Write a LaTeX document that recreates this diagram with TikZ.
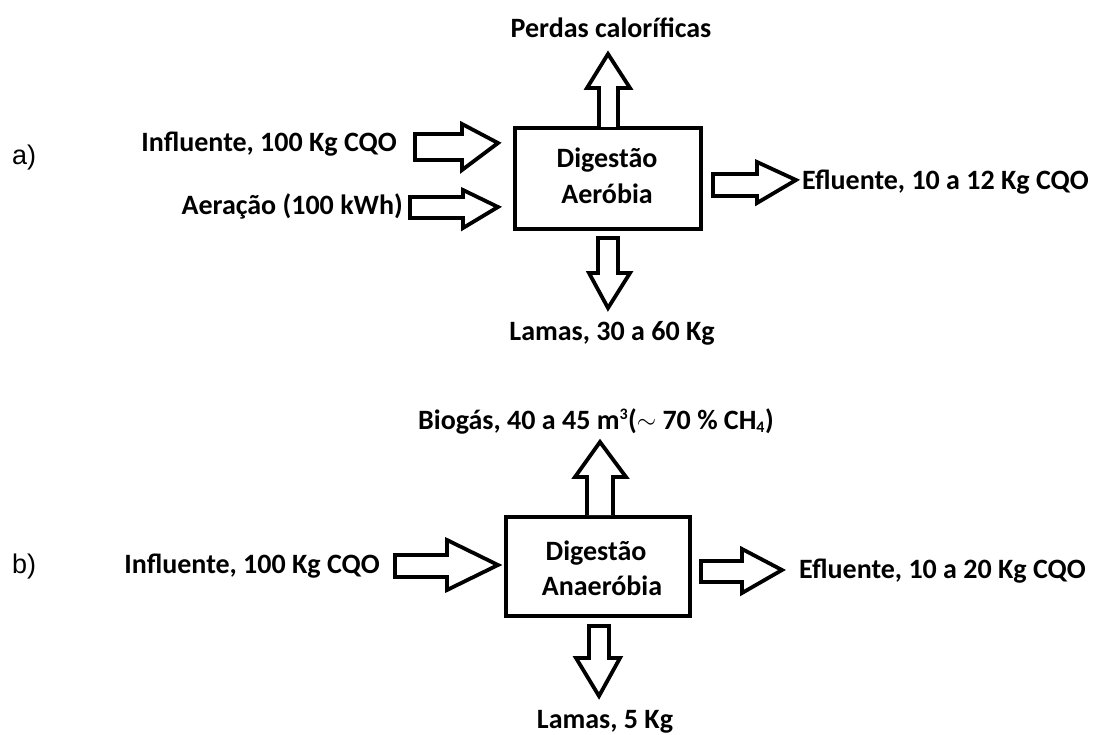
\documentclass[tikz,border=0pt]{standalone}
\usepackage{fontspec}
\setmainfont{Carlito}
\newfontfamily\lblfont{Liberation Sans}
\begin{document}
\begin{tikzpicture}[x=1pt,y=-1pt,
  lab/.style={font=\fontsize{28}{32}\selectfont\bfseries, inner sep=0pt},
  tag/.style={font=\lblfont\fontsize{27}{30}\selectfont, inner sep=0pt},
  procbox/.style={draw, line width=4pt},
  blockarrow/.style={draw, line width=3.8pt, line join=miter, fill=white}]
\useasboundingbox (0,0) rectangle (1105,735);
% ---------- a) ----------
\node[tag, anchor=west] (ta) at (12,158) {a)};
\draw[procbox] (515,128) rectangle (701,229);
\node[lab] (boxa1) at (607,160) {Digestão};
\node[lab] (boxa2) at (607,194) {Aeróbia};
% up arrow
\draw[blockarrow] (599,127) -- (599,88) -- (587,88) -- (608,54) -- (630,88) -- (618,88) -- (618,127);
\node[lab] (perdas) at (611,28) {Perdas caloríficas};
% left arrows
\draw[blockarrow] (415,134) -- (462,134) -- (462,124) -- (498,143) -- (462,170) -- (462,160) -- (415,160) -- cycle;
\node[lab, anchor=east] (infa) at (397,144) {Influente, 100 Kg CQO};
\draw[blockarrow] (410,197) -- (463,197) -- (463,190) -- (498,207) -- (463,228) -- (463,218) -- (410,218) -- cycle;
\node[lab, anchor=east] (aer) at (403,206) {Aeração (100 kWh)};
% right arrow
\draw[blockarrow] (713,174) -- (757,174) -- (757,162) -- (796,180) -- (757,203) -- (757,196) -- (713,196) -- cycle;
\node[lab, anchor=west] (efa) at (802,182) {Efluente, 10 a 12 Kg CQO};
% down arrow
\draw[blockarrow] (598,238) -- (618,238) -- (618,273) -- (630,273) -- (608,308) -- (589,273) -- (598,273) -- cycle;
\node[lab] (lama) at (612,333) {Lamas, 30 a 60 Kg};
% ---------- b) ----------
\node[tag, anchor=west] (tb) at (12,567) {b)};
\draw[procbox] (506,517) rectangle (690,616);
\node[lab] (boxb1) at (596,553) {Digestão};
\node[lab] (boxb2) at (602,586) {Anaeróbia};
% up arrow
\draw[blockarrow] (587,515) -- (587,477) -- (575,477) -- (600,442) -- (626,477) -- (613,477) -- (613,515);
\node[lab, anchor=west] (bio) at (418,421) {Biogás, 40 a 45 m\textsuperscript{\fontsize{16}{16}\selectfont 3}(\raisebox{1pt}{$\sim$} 70 \% CH\textsubscript{\fontsize{16}{16}\selectfont 4})};
% left arrow
\draw[blockarrow] (395,555) -- (447,555) -- (447,540) -- (498,565) -- (447,590) -- (447,577) -- (395,577) -- cycle;
\node[lab, anchor=east] (infb) at (380,566) {Influente, 100 Kg CQO};
% right arrow
\draw[blockarrow] (701,561) -- (742,561) -- (742,549) -- (782,570) -- (742,593) -- (742,582) -- (701,582) -- cycle;
\node[lab, anchor=west] (efb) at (799,571) {Efluente, 10 a 20 Kg CQO};
% down arrow
\draw[blockarrow] (589,626) -- (609,626) -- (609,658) -- (620,658) -- (599,696) -- (576,658) -- (589,658) -- cycle;
\node[lab] (lamb) at (605,722) {Lamas, 5 Kg};
\end{tikzpicture}
\end{document}
